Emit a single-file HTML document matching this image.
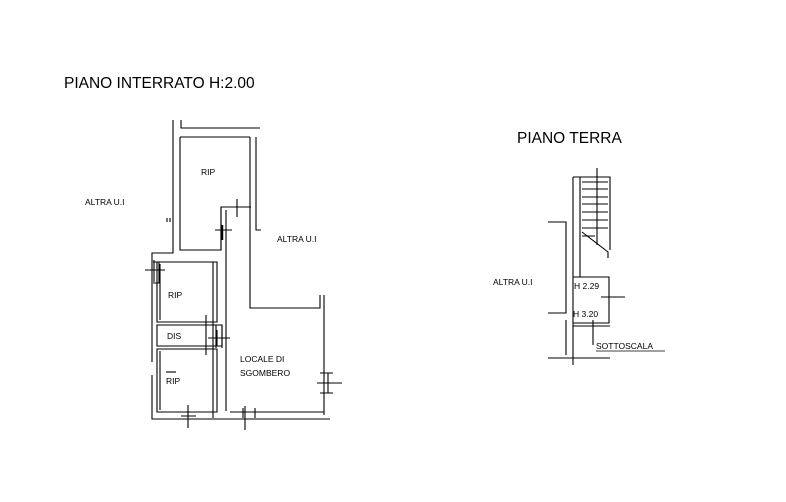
<!DOCTYPE html>
<html><head><meta charset="utf-8"><style>
html,body{margin:0;padding:0;background:#fff;}
svg{display:block;}
text{font-family:"Liberation Sans",sans-serif;fill:#000;}
</style></head><body>
<svg width="786" height="502" viewBox="0 0 786 502" xmlns="http://www.w3.org/2000/svg">
<rect width="786" height="502" fill="#fff"/>
<text x="64" y="88" font-size="15.5">PIANO INTERRATO H:2.00</text>
<text x="517" y="143" font-size="15.5">PIANO TERRA</text>
<text x="85" y="205" font-size="8.5">ALTRA U.I</text>
<text x="277" y="242" font-size="8.5">ALTRA U.I</text>
<text x="493" y="285" font-size="8.5">ALTRA U.I</text>
<g fill="none" stroke="#000" stroke-width="1.1">
<path d="M173 120 V253 H152 V362 M152 375 V419 H330"/>
<path d="M167 218 V222 M170 218 V222"/>
<path d="M181 120 V128 H260"/>
<path d="M180 137 H250 M180 137 V250 H221 V207 H251"/>
<path d="M256 137 V230 H261"/>
<path d="M221 207 V250 M226 210 V411 M250 137 V308 H320 V295"/>
<path d="M324 295 V415"/>
<path d="M222 225 V240" stroke-width="2.5"/>
<path d="M237 199 V217 M215 230 H232"/>
<path d="M157 262 H217 V322 H157 Z"/>
<path d="M160 264 V320"/>
<path d="M213 262 V418"/>
<path d="M157 325 H222 V346 H157 Z"/>
<path d="M157 349 H217 V412 H157 Z"/>
<path d="M160 351 V410"/>
<path d="M216 325 V348 M222 325 V348"/>
<path d="M145 270 H165 M154 260 V282"/>
<path d="M153 262 H159 V283 H153"/>
<path d="M206 315 V335 M206 335 V355 M208 338 H230 M217 330 V346"/>
<path d="M166 372 H176"/>
<path d="M181 412 H196 M181 416 H196 M188 405 V428"/>
<path d="M230 412 H324 M243 408 V418 M255 408 V418 M245 406 V430"/>
<path d="M320 373 H333 M320 393 H333 M328 373 V393 M317 383 H342"/>
<path d="M573 177 V365 M573 177 H610 V250 M580 177 V277"/>
<path d="M582 182 H608 M582 189 H608 M582 197 H608 M582 204 H608 M582 212 H608 M582 220 H608 M582 228 H608 M582 236 H595"/>
<path d="M582 232 L608 252 V258"/>
<path d="M597 168 V245"/>
<path d="M573 277 H609 V323 H573 M573 326 H610"/>
<path d="M601 297 H625"/>
<path d="M548 222 H566 V313 H548 M566 320 V355 M548 358 H610"/>
<path d="M593 320 V345"/>
<path d="M596 351 H665" stroke-width="0.8"/>
</g>
<g font-size="8.5">
<text x="201" y="175">RIP</text>
<text x="168" y="298">RIP</text>
<text x="167" y="339">DIS</text>
<text x="166" y="384">RIP</text>
<text x="240" y="362">LOCALE DI</text>
<text x="240" y="376">SGOMBERO</text>
<text x="574" y="289">H 2.29</text>
<text x="573" y="317">H 3.20</text>
<text x="596" y="349">SOTTOSCALA</text>
</g>
</svg>
</body></html>
